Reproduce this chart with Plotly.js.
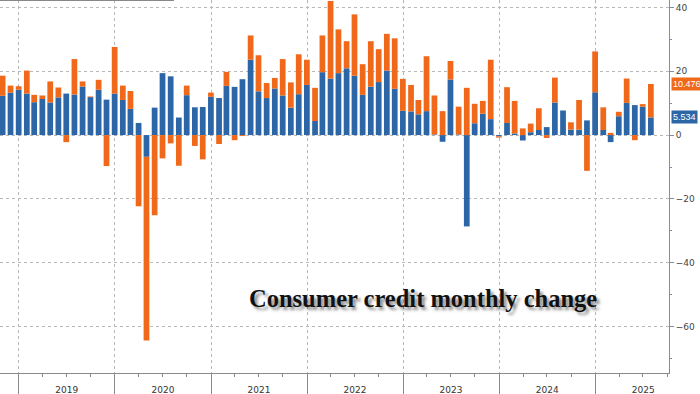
<!DOCTYPE html>
<html>
<head>
<meta charset="utf-8">
<script src="https://cdn.plot.ly/plotly-3.0.1.min.js"></script>
<style>html,body{margin:0;padding:0;background:#fff;}#chart{width:700px;height:394px;}</style>
</head>
<body>
<div id="chart"></div>
<script>
// Months (month-end reporting)
const months = [
 '2018-10','2018-11','2018-12',
 '2019-01','2019-02','2019-03','2019-04','2019-05','2019-06','2019-07','2019-08','2019-09','2019-10','2019-11','2019-12',
 '2020-01','2020-02','2020-03','2020-04','2020-05','2020-06','2020-07','2020-08','2020-09','2020-10','2020-11','2020-12',
 '2021-01','2021-02','2021-03','2021-04','2021-05','2021-06','2021-07','2021-08','2021-09','2021-10','2021-11','2021-12',
 '2022-01','2022-02','2022-03','2022-04','2022-05','2022-06','2022-07','2022-08','2022-09','2022-10','2022-11','2022-12',
 '2023-01','2023-02','2023-03','2023-04','2023-05','2023-06','2023-07','2023-08','2023-09','2023-10','2023-11','2023-12',
 '2024-01','2024-02','2024-03','2024-04','2024-05','2024-06','2024-07','2024-08','2024-09','2024-10','2024-11','2024-12',
 '2025-01','2025-02','2025-03','2025-04','2025-05','2025-06','2025-07'
];
// Nonrevolving credit change ($bn)
const nonrevolving = [
 12.3,13.3,14.2,
 13.0,10.3,11.3,10.2,11.8,13.0,12.7,15.2,11.9,14.2,11.1,13.0,
 11.0,8.2,3.8,-6.8,8.6,19.4,18.4,5.5,12.5,8.7,8.8,12.0,
 11.6,15.4,15.1,17.5,23.6,13.7,11.6,14.6,12.4,8.6,12.8,15.7,
 4.4,19.7,17.7,19.4,20.9,18.6,12.6,15.2,16.6,20.2,14.5,7.6,
 7.4,6.5,7.5,0.2,-2.1,17.4,0.2,-28.6,3.7,6.7,5.0,-0.4,
 3.8,0.5,-1.7,0.9,1.6,2.5,10.2,7.7,1.7,1.7,4.6,13.4,
 1.6,-2.2,5.9,10.1,9.4,8.9,5.534
];
// Revolving credit change ($bn)
const revolving = [
 6.3,2.2,1.1,
 7.2,2.3,1.1,6.6,3.1,-2.2,11.1,1.6,0.2,3.1,-9.7,14.6,
 4.5,5.6,-22.3,-57.5,-25.1,-7.3,-2.6,-9.6,3.0,-3.4,-7.6,1.3,
 -2.8,4.4,-1.6,-0.3,7.6,11.3,4.7,3.3,11.4,7.9,12.5,7.9,
 10.4,11.5,24.3,13.7,8.5,19.2,9.6,14.2,10.3,11.5,15.8,10.0,
 8.3,4.5,17.2,12.2,7.5,5.8,8.7,14.8,6.1,4.0,18.6,-0.4,
 11.2,10.2,2.1,2.7,6.8,-0.9,7.8,0.0,2.3,9.3,-11.2,12.8,
 7.1,0.7,1.4,7.6,-1.6,0.8,10.476
];
const yearLabels = ['2019','2020','2021','2022','2023','2024','2025'];
const title = 'Consumer credit monthly change';

const BLUE = '#2d66a6', ORANGE = '#f0691b';

function monthEnd(m){
  const [y, mo] = m.split('-').map(Number);
  const d = new Date(Date.UTC(y, mo, 0));
  return d.toISOString().slice(0,10);
}
const xDates = months.map(monthEnd);
const xRange = ['2018-10-21','2025-10-08'];
const yearMid = yearLabels.map(y => y + '-07-02');

const traces = [
  {type:'bar', x:xDates, y:nonrevolving, marker:{color:BLUE, line:{width:0}}, name:'Nonrevolving', hoverinfo:'skip'},
  {type:'bar', x:xDates, y:revolving, marker:{color:ORANGE, line:{width:0}}, name:'Revolving', hoverinfo:'skip'},
  {type:'scatter', x:[], y:[], xaxis:'x2', showlegend:false, hoverinfo:'skip'}
];

const lastB = nonrevolving[nonrevolving.length-1];
const lastO = revolving[revolving.length-1];

const layout = {
  width:700, height:394,
  margin:{l:0, r:31, t:0, b:21},
  paper_bgcolor:'#fff', plot_bgcolor:'#fff',
  barmode:'relative', bargap:0.22,
  showlegend:false,
  xaxis:{
    type:'date', range:xRange,
    tick0:'2019-01-01', dtick:'M12',
    showgrid:true, gridcolor:'#b8b8b8', griddash:'dot', gridwidth:1,
    ticks:'outside', ticklen:22, tickcolor:'#8a8a8a', tickwidth:1,
    showticklabels:false,
    showline:true, linecolor:'#8a8a8a', linewidth:1,
    minor:{dtick:'M3', tick0:'2019-01-01', ticks:'outside', ticklen:3, tickcolor:'#8a8a8a', showgrid:false},
    zeroline:false, fixedrange:true
  },
  xaxis2:{
    type:'date', range:xRange, overlaying:'x', anchor:'y', side:'bottom',
    tickmode:'array', tickvals:yearMid, ticktext:yearLabels,
    showgrid:false, ticks:'', showline:false, zeroline:false,
    tickfont:{family:'DejaVu Sans, sans-serif', size:9, color:'#333'},
    ticklabelstandoff:10
  },
  yaxis:{
    side:'right', range:[-74.5, 42.3],
    tickvals:[-60,-40,-20,0,20,40],
    showgrid:true, gridcolor:'#b8b8b8', griddash:'dot', gridwidth:1,
    zeroline:false,
    showline:true, linecolor:'#7a8fae', linewidth:1,
    ticks:'outside', ticklen:4, tickcolor:'#7a8fae',
    minor:{tickvals:[-70,-50,-30,-10,10,30], ticks:'outside', ticklen:2, tickcolor:'#7a8fae', showgrid:false},
    tickfont:{family:'DejaVu Sans, sans-serif', size:9, color:'#444'},
    fixedrange:true
  },
  shapes:[
    {type:'line', xref:'paper', yref:'paper', x0:0, x1:0.26, y0:1, y1:1, line:{color:'#888', width:2}}
  ],
  annotations:[
    {xref:'paper', yref:'y', x:1, y:lastB+lastO, xanchor:'left', xshift:2, showarrow:false,
     text:lastO.toFixed(3), bgcolor:ORANGE, font:{family:'Liberation Sans, Arial, sans-serif', size:9, color:'#fff'}, borderpad:1},
    {xref:'paper', yref:'y', x:1, y:lastB, xanchor:'left', xshift:2, showarrow:false,
     text:lastB.toFixed(3), bgcolor:BLUE, font:{family:'Liberation Sans, Arial, sans-serif', size:9, color:'#fff'}, borderpad:1},
    {xref:'paper', yref:'paper', x:0.633, y:0.201, xanchor:'center', yanchor:'middle', showarrow:false,
     text:title, font:{family:'Liberation Serif, serif', size:24.5, color:'#111', weight:'bold', shadow:'3px 3px 3px rgba(0,0,0,0.45)'}}
  ]
};

Plotly.newPlot('chart', traces, layout, {staticPlot:true, displayModeBar:false});
</script>
</body>
</html>
